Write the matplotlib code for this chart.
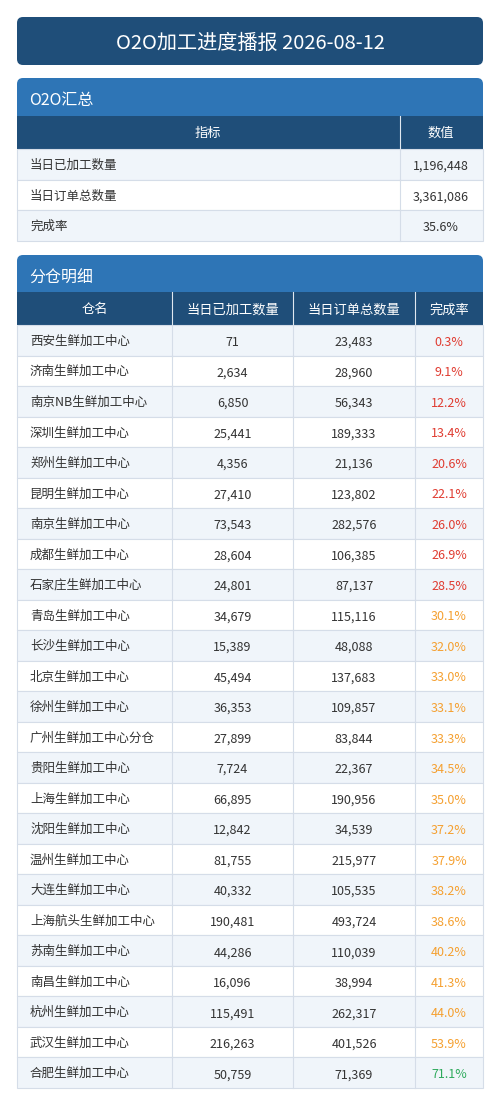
import matplotlib
matplotlib.use("Agg")
import matplotlib.pyplot as plt
from matplotlib.patches import Rectangle, FancyBboxPatch

plt.rcParams['font.family'] = ['Noto Sans CJK SC', 'DejaVu Sans']

title = "O2O加工进度播报 2026-08-12"
summary_labels = ["当日已加工数量", "当日订单总数量", "完成率"]
summary_values = ["1,196,448", "3,361,086", "35.6%"]

warehouses = ["西安生鲜加工中心", "济南生鲜加工中心", "南京NB生鲜加工中心", "深圳生鲜加工中心",
              "郑州生鲜加工中心", "昆明生鲜加工中心", "南京生鲜加工中心", "成都生鲜加工中心",
              "石家庄生鲜加工中心", "青岛生鲜加工中心", "长沙生鲜加工中心", "北京生鲜加工中心",
              "徐州生鲜加工中心", "广州生鲜加工中心分仓", "贵阳生鲜加工中心", "上海生鲜加工中心",
              "沈阳生鲜加工中心", "温州生鲜加工中心", "大连生鲜加工中心", "上海航头生鲜加工中心",
              "苏南生鲜加工中心", "南昌生鲜加工中心", "杭州生鲜加工中心", "武汉生鲜加工中心",
              "合肥生鲜加工中心"]
processed = [71, 2634, 6850, 25441, 4356, 27410, 73543, 28604, 24801, 34679, 15389, 45494,
             36353, 27899, 7724, 66895, 12842, 81755, 40332, 190481, 44286, 16096, 115491,
             216263, 50759]
orders = [23483, 28960, 56343, 189333, 21136, 123802, 282576, 106385, 87137, 115116, 48088,
          137683, 109857, 83844, 22367, 190956, 34539, 215977, 105535, 493724, 110039, 38994,
          262317, 401526, 71369]
rates = [0.3, 9.1, 12.2, 13.4, 20.6, 22.1, 26.0, 26.9, 28.5, 30.1, 32.0, 33.0, 33.1, 33.3,
         34.5, 35.0, 37.2, 37.9, 38.2, 38.6, 40.2, 41.3, 44.0, 53.9, 71.1]

DARK = "#1f4e79"; MID = "#2e75b6"; LIGHT = "#f0f5fa"; GRID = "#d5dde8"; TXT = "#333333"

fig = plt.figure(figsize=(5, 11.05), dpi=100)
ax = fig.add_axes([0, 0, 1, 1])
ax.set_xlim(0, 500); ax.set_ylim(1105, 0); ax.axis("off")

def rbox(x0, y0, x1, y1, color, r=6):
    ax.add_patch(FancyBboxPatch((x0 + r, y0 + r), x1 - x0 - 2 * r, y1 - y0 - 2 * r,
                                boxstyle=f"round,pad={r}", fc=color, ec="none", mutation_aspect=1))

def rect(x0, y0, x1, y1, fc, ec="none", lw=0):
    ax.add_patch(Rectangle((x0, y0), x1 - x0, y1 - y0, fc=fc, ec=ec, lw=lw))

L, R = 17, 483
rbox(L, 17, R, 65, DARK)
ax.text(250, 43, title, color="white", fontsize=14.5, ha="center", va="center")

# Section 1
rbox(L, 78, R, 122, MID)
rect(L, 108, R, 116, MID)
ax.text(29, 101, "O2O汇总", color="white", fontsize=11.5, ha="left", va="center")
rect(L, 116, R, 149, DARK)
ax.plot([400, 400], [116, 149], color="#e0e8f0", lw=0.8)
ax.text(208, 133, "指标", color="white", fontsize=9.5, ha="center", va="center")
ax.text(441, 133, "数值", color="white", fontsize=9.5, ha="center", va="center")
y = 149
for i, (lab, val) in enumerate(zip(summary_labels, summary_values)):
    h = 30.7
    rect(L, y, R, y + h, LIGHT if i % 2 == 0 else "white", ec=GRID, lw=0.8)
    ax.plot([400, 400], [y, y + h], color=GRID, lw=0.8)
    ax.text(30, y + h / 2 + 1, lab, color=TXT, fontsize=9, ha="left", va="center")
    ax.text(441, y + h / 2 + 2, val, color=TXT, fontsize=9, ha="center", va="center")
    y += h

# Section 2
rbox(L, 255, R, 298, MID)
rect(L, 285, R, 292, MID)
ax.text(29, 278, "分仓明细", color="white", fontsize=11.5, ha="left", va="center")
rect(L, 292, R, 325, DARK)
cols = [L, 172, 293, 415, R]
heads = ["仓名", "当日已加工数量", "当日订单总数量", "完成率"]
for j, hd in enumerate(heads):
    if j > 0:
        ax.plot([cols[j], cols[j]], [292, 325], color="#e0e8f0", lw=0.8)
    ax.text((cols[j] + cols[j + 1]) / 2, 310, hd, color="white", fontsize=9.5, ha="center", va="center")

def rate_color(r):
    if r < 30: return "#e03c31"
    if r < 70: return "#f5a030"
    return "#2eaa5c"

y = 325
h = (1088 - 325) / len(warehouses)
for i in range(len(warehouses)):
    rect(L, y, R, y + h, LIGHT if i % 2 == 0 else "white", ec=GRID, lw=0.8)
    for c in cols[1:-1]:
        ax.plot([c, c], [y, y + h], color=GRID, lw=0.8)
    cy = y + h / 2 + 1
    ax.text(30, cy, warehouses[i], color=TXT, fontsize=9, ha="left", va="center")
    ax.text((cols[1] + cols[2]) / 2, cy + 1, f"{processed[i]:,}", color=TXT, fontsize=9, ha="center", va="center")
    ax.text((cols[2] + cols[3]) / 2, cy + 1, f"{orders[i]:,}", color=TXT, fontsize=9, ha="center", va="center")
    ax.text((cols[3] + cols[4]) / 2, cy + 1, f"{rates[i]:.1f}%", color=rate_color(rates[i]), fontsize=9, ha="center", va="center")
    y += h

fig.savefig("out.png", dpi=100, facecolor="white")
